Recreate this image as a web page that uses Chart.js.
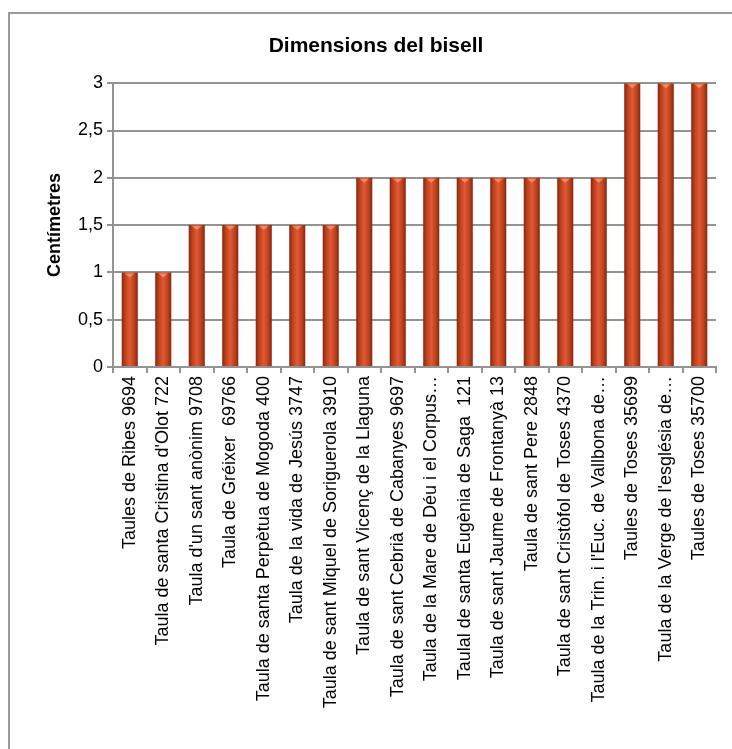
<!DOCTYPE html>
<html>
<head>
<meta charset="utf-8">
<script src="https://cdn.jsdelivr.net/npm/chart.js@4.4.0/dist/chart.umd.min.js"></script>
<style>
  html, body { margin: 0; padding: 0; background: #fff; overflow: hidden; }
  .frame {
    position: absolute; left: 8px; top: 12px; width: 760px; height: 780px;
    border-left: 2px solid #9a9a9a; border-top: 2px solid #9a9a9a;
  }
  .wrap { position: absolute; left: 0; top: 0; width: 732px; height: 749px; }
</style>
</head>
<body>
<div class="frame"></div>
<div class="wrap"><canvas id="bisell"></canvas></div>
<script>
// ===== Data =====
const taules = [
  'Taules de Ribes 9694',
  "Taula de santa Cristina d'Olot 722",
  "Taula d'un sant anònim 9708",
  'Taula de Gréixer  69766',
  'Taula de santa Perpètua de Mogoda 400',
  'Taula de la vida de Jesús 3747',
  'Taula de sant Miquel de Soriguerola 3910',
  'Taula de sant Vicenç de la Llaguna',
  'Taula de sant Cebrià de Cabanyes 9697',
  'Taula de la Mare de Déu i el Corpus…',
  'Taulal de santa Eugènia de Saga  121',
  'Taula de sant Jaume de Frontanyà 13',
  'Taula de sant Pere 2848',
  'Taula de sant Cristòfol de Toses 4370',
  "Taula de la Trin. i l'Euc. de Vallbona de…",
  'Taules de Toses 35699',
  "Taula de la Verge de l'església de…",
  'Taules de Toses 35700',
];
const bisell = [1, 1, 1.5, 1.5, 1.5, 1.5, 1.5, 2, 2, 2, 2, 2, 2, 2, 2, 3, 3, 3];
const yTicks = [0, 0.5, 1, 1.5, 2, 2.5, 3];

const FONT = "'Liberation Sans', Arial, sans-serif";
const GRID = '#939393';
const BAR_PCT = 0.48;

// horizontal shading so each bar reads like a cylinder
function barFill(ctx) {
  const chart = ctx.chart;
  if (!chart.chartArea) return '#d24a26';
  const x = chart.scales.x;
  const w = (x.width / taules.length) * BAR_PCT;
  const cx = x.getPixelForValue(ctx.dataIndex);
  const g = chart.ctx.createLinearGradient(cx - w / 2, 0, cx + w / 2, 0);
  g.addColorStop(0, '#862810');
  g.addColorStop(0.25, '#c4441f');
  g.addColorStop(0.5, '#dd5a34');
  g.addColorStop(0.75, '#c4441f');
  g.addColorStop(1, '#862810');
  return g;
}

// light cap on top of every bar
const barCaps = {
  id: 'barCaps',
  afterDatasetsDraw(chart) {
    const c = chart.ctx;
    chart.getDatasetMeta(0).data.forEach(bar => {
      const { x, y, width } = bar.getProps(['x', 'y', 'width'], true);
      c.save();
      c.fillStyle = 'rgba(250,160,120,0.7)';
      c.beginPath();
      c.moveTo(x - width * 0.3, y + 1);
      c.lineTo(x + width * 0.3, y + 1);
      c.lineTo(x, y + 5);
      c.closePath();
      c.fill();
      c.restore();
    });
  }
};

new Chart(document.getElementById('bisell'), {
  type: 'bar',
  data: {
    labels: taules,
    datasets: [{
      data: bisell,
      backgroundColor: barFill,
      borderWidth: 0,
      barPercentage: BAR_PCT,
      categoryPercentage: 1,
    }]
  },
  options: {
    responsive: true,
    maintainAspectRatio: false,
    animation: false,
    layout: { padding: { left: 36, right: 16, top: 0, bottom: 0 } },
    plugins: {
      legend: { display: false },
      tooltip: { enabled: false },
      title: {
        display: true,
        text: 'Dimensions del bisell',
        color: '#000',
        font: { family: FONT, size: 21, weight: 'bold' },
        padding: { top: 34, bottom: 24 },
      },
    },
    scales: {
      x: {
        grid: { offset: true, drawOnChartArea: false, color: GRID, lineWidth: 2, tickLength: 6 },
        border: { color: GRID, width: 2 },
        ticks: {
          color: '#000',
          font: { family: FONT, size: 18 },
          minRotation: 90,
          maxRotation: 90,
          autoSkip: false,
          padding: 3,
        },
        afterFit: s => { s.height = 382; },
      },
      y: {
        min: 0,
        max: 3,
        afterBuildTicks: s => { s.ticks = yTicks.map(v => ({ value: v })); },
        grid: { color: GRID, lineWidth: 2, tickLength: 6 },
        border: { color: GRID, width: 2 },
        ticks: {
          color: '#000',
          font: { family: FONT, size: 18 },
          padding: 4,
          callback: v => String(v).replace('.', ','),
        },
        title: {
          display: true,
          text: 'Centímetres',
          color: '#000',
          font: { family: FONT, size: 18, weight: 'bold' },
          padding: { top: 8, bottom: 0 },
        },
        afterFit: s => { s.width = 77; },
      },
    },
  },
  plugins: [barCaps],
});
</script>
</body>
</html>
